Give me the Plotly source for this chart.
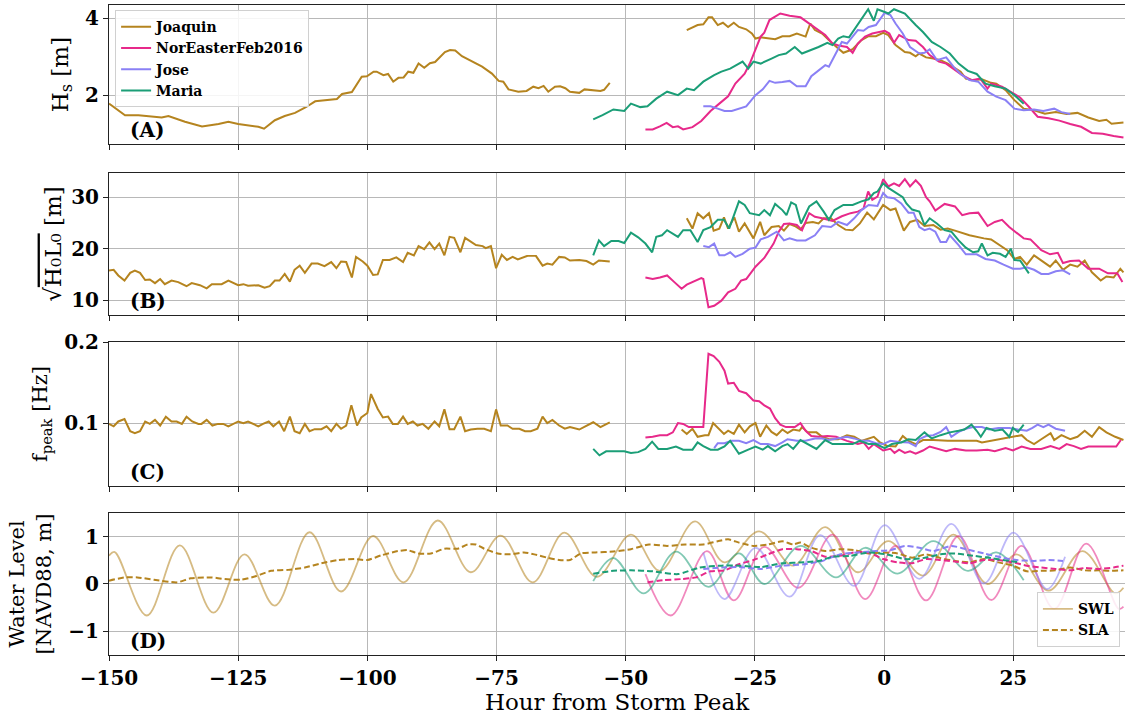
import plotly.graph_objects as go

# ---------------- DATA (hour from storm peak, value) ----------------
storms = ["Joaquin", "NorEasterFeb2016", "Jose", "Maria"]

# Panel A: Hs [m]
hs_joaquin = [(-150,1.78),(-146.9,1.48),(-144.3,1.48),(-141.7,1.44),(-139.8,1.42),(-138.5,1.46),(-135.3,1.31),(-132,1.19),(-128.8,1.25),(-126.9,1.31),(-125,1.25),(-121.1,1.18),(-120,1.13),(-117.9,1.35),(-116,1.46),(-114,1.54),(-112,1.68),(-110.1,1.84),(-107.8,1.87),(-105.9,1.90),(-104.9,2.03),(-103,2.08),(-101.1,2.48),(-100.1,2.49),(-98.8,2.61),(-98.2,2.61),(-96.9,2.52),(-96,2.55),(-95,2.35),(-94,2.45),(-93,2.46),(-92.1,2.61),(-91.1,2.58),(-90.1,2.82),(-89,2.71),(-87.9,2.83),(-86.9,2.86),(-85.9,2.99),(-85,3.12),(-84,3.17),(-83,3.16),(-81.7,3.01),(-79.8,2.87),(-77.8,2.74),(-75.9,2.56),(-74.6,2.37),(-73.7,2.35),(-72.7,2.15),(-70.8,2.09),(-69.2,2.11),(-67.9,2.22),(-66.9,2.18),(-65.9,2.24),(-65,2.09),(-63.7,2.22),(-62.7,2.23),(-61.7,2.18),(-60.8,2.09),(-59,2.06),(-58,2.15),(-54.9,2.11),(-54.2,2.14),(-53.1,2.32),
              (-45,None),
              (-38.2,3.69),(-36.1,3.82),(-35,3.84),(-34,4.02),(-33.3,4.02),(-32.2,3.82),(-31.2,3.88),(-30.2,3.77),(-29.1,3.88),(-28.1,3.77),(-26.7,3.71),(-25.6,3.60),(-24.9,3.47),(-23.9,3.50),(-21.1,3.45),(-19.7,3.53),(-18.3,3.53),(-16.9,3.60),(-15.2,3.52),(-14.3,3.86),(-13.4,3.69),(-12,3.60),(-10,3.34),(-7.9,3.10),(-6.1,3.19),(-4.4,3.43),(-3,3.53),(-1.6,3.53),(-0.2,3.62),(0.8,3.56),(2.2,3.30),(4,3.12),(5,3.10),(6.1,3.01),(6.8,3.08),(8.1,2.98),(9.5,2.95),(10.9,2.91),(12.3,2.82),(13.7,2.69),(14.8,2.61),(15.8,2.43),(17.2,2.39),(18.9,2.41),(20.7,2.32),(21.7,2.30),(23.5,2.13),(25.2,1.87),(27,1.65),(29,1.61),(31.1,1.52),(33.2,1.56),(35.3,1.51),(37.4,1.54),(39.5,1.42),(41.6,1.33),(43,1.36),(44,1.26),(46.3,1.29)]
hs_noreaster = [(-46.2,1.11),(-44.8,1.11),(-43.4,1.19),(-42.1,1.28),(-40.9,1.17),(-39.9,1.19),(-38.9,1.11),(-37.1,1.17),(-35.4,1.33),(-33.6,1.59),(-31.9,1.78),(-30.2,1.97),(-28.8,2.30),(-27,2.56),(-26,2.82),(-24.9,3.21),(-23.9,3.52),(-23.2,3.62),(-22.2,3.95),(-20.1,4.12),(-18.3,4.06),(-16.2,4.02),(-14.5,3.86),(-13.1,3.71),(-11.4,3.56),(-10,3.34),(-8.6,3.28),(-7.2,3.25),(-6.1,3.10),(-5.1,3.34),(-3.7,3.52),(-2.3,3.60),(-0.9,3.65),(0.1,3.67),(1,3.60),(1.9,3.36),(2.9,3.56),(4.7,3.43),(6.1,3.41),(7.5,3.25),(8.8,3.04),(10.6,2.87),(12,2.82),(13.4,2.69),(15.1,2.52),(16.9,2.39),(18.6,2.43),(20,2.17),(20.7,2.30),(22.8,2.22),(24.5,2.09),(26.3,1.94),(28,1.70),(29.7,1.44),(31.8,1.40),(33.9,1.34),(36,1.25),(38.1,1.18),(40.2,1.02),(42.3,1.00),(44.4,0.94),(46.3,0.90)]
hs_jose = [(-35,1.71),(-33.6,1.71),(-32.2,1.65),(-30.9,1.59),(-29.5,1.59),(-28.1,1.65),(-26.7,1.71),(-24.9,2.0),(-23.5,2.15),(-22.2,2.37),(-21.1,2.32),(-19.7,2.34),(-18.3,2.37),(-16.9,2.23),(-15.2,2.23),(-14.1,2.49),(-12.7,2.65),(-11.4,2.78),(-10.7,2.74),(-9.6,3.04),(-8.2,3.38),(-7.2,3.34),(-6.1,3.52),(-5.1,3.69),(-4,3.67),(-3,3.77),(-1.6,3.82),(-0.6,3.99),(0.1,4.14),(1.2,4.08),(2.2,3.86),(3.6,3.60),(5,3.25),(6.8,3.08),(7.8,3.10),(8.8,3.19),(10.2,2.91),(12,2.98),(13.4,2.74),(14.8,2.55),(16.5,2.39),(18.2,2.35),(20,2.09),(21.7,1.96),(23.5,1.87),(25.2,1.65),(27,1.61),(29,1.63),(30.8,1.59),(32.9,1.65),(34.3,1.56),(36,1.51)]
hs_maria = [(-56.3,1.37),(-54.5,1.48),(-52.4,1.63),(-50.3,1.59),(-49,1.78),(-47.2,1.69),(-45.8,1.71),(-44.1,1.91),(-42,2.09),(-39.9,2.0),(-38.2,2.17),(-36.8,2.13),(-35,2.35),(-32.9,2.52),(-31.5,2.61),(-29.8,2.69),(-27.4,2.87),(-26.3,2.69),(-25.3,2.87),(-23.9,2.82),(-21.8,2.95),(-20.4,3.04),(-19,3.08),(-17.3,3.25),(-15.9,3.08),(-14.1,3.17),(-12.7,3.25),(-11,3.36),(-10,3.30),(-8.9,3.47),(-7.9,3.53),(-6.8,3.50),(-5.8,3.69),(-4.4,3.95),(-3.1,4.23),(-2,3.93),(-1.3,4.23),(0.1,4.16),(0.8,4.12),(1.9,4.23),(4,4.12),(6.1,3.82),(7.5,3.64),(9.2,3.38),(10.9,3.25),(12.7,3.08),(14.4,2.82),(16.2,2.63),(17.9,2.55),(19.6,2.30),(21.4,2.23),(23.5,2.17),(25.2,2.0),(27,1.78)]

# Panel B: sqrt(H0 L0) [m]
hl_joaquin = [(-150,15.75),(-149.1,15.9),(-148.2,14.8),(-147,13.8),(-145.9,15.3),(-145,15.75),(-144,15.3),(-143,13.9),(-142.1,14.0),(-141.1,13.3),(-140.1,14.1),(-139.2,13.1),(-137.9,13.8),(-136.6,13.5),(-135,12.7),(-134,13.3),(-132.4,12.9),(-131.1,12.3),(-130.1,13.1),(-128.2,13.1),(-126.9,13.8),(-125,12.9),(-124,13.1),(-123.1,12.8),(-121.1,12.9),(-119.9,12.4),(-118.9,12.7),(-117.9,13.8),(-117,13.8),(-116,15.1),(-115,13.6),(-114.1,15.9),(-113.1,16.7),(-112.1,15.3),(-110.8,17.1),(-109.6,17.1),(-108.3,16.6),(-107,17.4),(-106,16.2),(-105.1,17.5),(-104.1,17.4),(-103,14.4),(-102.2,18.4),(-100.9,17.5),(-100,16.7),(-98.9,14.9),(-98,15.0),(-97,17.8),(-95.7,17.8),(-94.4,18.3),(-93.1,17.4),(-92.2,19.2),(-91,18.7),(-90.1,20.5),(-89,19.9),(-88,21.2),(-87,19.9),(-86.1,21.0),(-85.1,18.7),(-84.1,22.3),(-83.2,22.1),(-82,19.3),(-81.1,22.1),(-80,21.4),(-79,20.7),(-77.7,20.5),(-77.1,20.1),(-76.1,20.5),(-75.1,16.2),(-74,18.8),(-73,17.8),(-71.9,18.4),(-70.9,17.9),(-69,18.6),(-67.4,18.6),(-66.1,16.7),(-65.2,17.1),(-64.2,16.9),(-62.9,18.4),(-61.8,18.3),(-60.8,17.7),(-59,17.8),(-57.6,17.6),(-56.3,16.9),(-55.2,17.7),(-53.1,17.5),
              (-45,None),
              (-38.2,25.9),(-37.1,23.9),(-36.1,26.9),(-35,25.9),(-33.9,26.9),(-33,23.5),(-31.9,23.9),(-31,26.1),(-30.2,23.9),(-29,26.1),(-28.1,23.3),(-27,24.9),(-25.3,22.0),(-24,25.2),(-23.2,22.6),(-21.8,24.2),(-20.4,24.4),(-19.4,23.5),(-18.3,24.8),(-17.3,24.4),(-16.2,23.7),(-15.2,25.0),(-13.8,25.2),(-12.7,24.9),(-11.7,25.9),(-10.3,25.9),(-8.9,24.6),(-7.5,23.7),(-6.1,23.6),(-4.7,24.9),(-3.3,27.0),(-2,25.7),(-0.2,28.5),(1.2,27.5),(2.2,27.8),(3.8,23.5),(5,25.2),(6.4,25.6),(7.8,24.4),(9.5,24.6),(10.9,23.7),(12.3,23.9),(13.7,23.5),(16.5,22.6),(19.3,22.0),(20.7,21.8),(23.8,19.7),(25.2,18.0),(26.3,18.4),(27.6,16.9),(29,18.7),(30.4,17.7),(32.1,16.5),(33.2,17.7),(34.6,15.9),(36,16.9),(37.4,16.5),(38.8,17.7),(40.2,15.4),(41.9,13.8),(43,14.6),(44.4,14.4),(45.7,16.1),(46.3,15.4)]
hl_noreaster = [(-46.2,14.4),(-44.8,14.1),(-43.4,14.4),(-42,14.8),(-40.6,13.5),(-39.2,12.2),(-38.2,13.0),(-36.8,13.7),(-35.4,14.3),(-35,14.1),(-34,8.6),(-32.9,8.9),(-31.5,9.9),(-30.2,11.5),(-28.8,12.2),(-27.7,13.8),(-26.7,14.1),(-24.9,16.5),(-23.2,18.2),(-21.4,21.0),(-20.4,23.3),(-19.4,24.8),(-18.3,24.9),(-16.9,24.6),(-15.9,23.6),(-14.5,26.9),(-13.4,26.2),(-12,25.9),(-10,25.4),(-8.2,26.3),(-6.5,26.9),(-5.1,27.2),(-4,27.8),(-3.1,31.1),(-2.3,29.5),(-1.3,30.1),(-0.2,33.5),(0.8,32.1),(1.9,32.7),(2.9,32.2),(4,33.5),(5,32.1),(6.1,33.3),(7.1,32.2),(8.1,30.0),(8.8,29.2),(9.9,27.4),(11.7,28.7),(13.7,28.2),(15.1,26.5),(16.5,26.9),(18.2,27.0),(20,24.4),(21.4,25.2),(22.8,25.6),(24.2,24.2),(25.6,23.1),(27,22.0),(28.3,21.8),(30.4,19.7),(32.1,18.9),(33.6,19.2),(34.6,17.2),(36,17.6),(37.7,17.7),(39.5,16.1),(41.6,16.1),(43.3,15.2),(45.1,15.2),(46.1,13.5)]
hl_jose = [(-35,20.5),(-33.9,20.3),(-32.9,21.0),(-31.9,18.7),(-30.9,18.7),(-29.8,19.3),(-28.8,18.4),(-27.4,19.0),(-26,20.0),(-24.9,20.2),(-23.9,21.8),(-22.5,22.3),(-20.8,23.3),(-19.4,21.6),(-18.3,22.0),(-16.9,21.6),(-15.2,21.6),(-13.4,22.6),(-12,24.4),(-10.3,24.2),(-8.9,25.2),(-7.2,24.6),(-5.8,25.9),(-4.4,27.5),(-3,28.5),(-1.3,28.3),(-0.2,30.8),(0.6,30.0),(1.9,29.8),(3.3,28.8),(4.7,27.0),(5.7,27.0),(6.8,24.2),(7.8,23.6),(8.8,23.9),(9.9,23.3),(10.9,21.3),(12,21.3),(12.7,22.6),(14.4,20.7),(15.8,18.9),(17.9,18.9),(19.6,18.0),(21.4,17.7),(23.1,16.9),(24.9,16.1),(26.3,16.1),(27.6,16.4),(29,15.9),(30.4,15.1),(31.8,15.1),(33.2,15.6),(34.6,15.8),(36,15.0)]
hl_maria = [(-56.3,18.7),(-55.2,21.6),(-54.2,20.5),(-52.8,21.5),(-51.4,21.5),(-50.3,21.1),(-49,23.1),(-47.6,22.2),(-46.2,21.0),(-44.9,19.3),(-44.1,22.3),(-43,22.6),(-42,23.6),(-39.9,22.3),(-38.9,23.6),(-37.5,23.6),(-36.1,21.3),(-35,23.6),(-33.6,24.2),(-32.2,25.6),(-31,25.6),(-30,23.9),(-28.1,29.2),(-27,28.5),(-26,26.9),(-24.2,26.5),(-23.2,27.5),(-22.1,26.5),(-21.1,28.7),(-19.7,27.5),(-18.9,26.5),(-18,29.0),(-17.1,28.5),(-16.1,24.9),(-14.5,28.2),(-13.1,29.2),(-11.7,27.2),(-10.7,25.6),(-9.6,27.5),(-7.9,28.5),(-6.1,28.5),(-4.4,29.2),(-3,29.6),(-2,30.8),(-1.3,31.1),(-0.2,32.7),(0.8,31.8),(2.2,30.9),(3.6,30.0),(4.3,28.8),(5.4,27.6),(6.8,27.2),(7.8,24.6),(8.8,25.9),(10.2,24.9),(11.7,23.6),(13,23.3),(14.4,21.6),(15.8,20.2),(17.2,19.3),(18.2,19.5),(18.9,21.0),(20,18.7),(21,19.2),(22.4,19.0),(23.5,18.4),(24.5,20.0),(25.2,17.8),(26.3,17.7),(28,15.2)]

# Panel C: f_peak [Hz]
fp_joaquin = [(-150,0.099),(-149.1,0.096),(-148.2,0.102),(-147,0.105),(-145.9,0.090),(-145,0.0875),(-144,0.090),(-143,0.102),(-142.1,0.099),(-141.1,0.104),(-140.1,0.097),(-139,0.108),(-137.9,0.102),(-136.9,0.102),(-135.9,0.099),(-135,0.108),(-133.9,0.102),(-132.7,0.099),(-132.1,0.099),(-131.1,0.104),(-130,0.097),(-128.9,0.099),(-127.9,0.099),(-126.9,0.096),(-125,0.102),(-124,0.100),(-123.1,0.102),(-121.1,0.096),(-120.2,0.099),(-119.1,0.102),(-118.2,0.096),(-117.1,0.102),(-116.1,0.090),(-115,0.108),(-114.1,0.090),(-113.1,0.0875),(-112.1,0.099),(-111.2,0.090),(-110.2,0.0925),(-108.9,0.0925),(-107.9,0.096),(-107,0.090),(-106,0.099),(-105.1,0.093),(-104.1,0.097),(-103.1,0.122),(-102,0.097),(-101.2,0.107),(-100,0.1125),(-99.3,0.136),(-98,0.1175),(-97,0.107),(-96,0.108),(-95.1,0.099),(-94.1,0.099),(-93.1,0.108),(-92.2,0.099),(-91.2,0.102),(-90.3,0.097),(-89.3,0.099),(-88.2,0.093),(-87,0.102),(-86.1,0.096),(-85.1,0.117),(-84.1,0.0925),(-83.2,0.0925),(-82,0.108),(-81.1,0.090),(-80,0.092),(-78.7,0.093),(-77.4,0.093),(-76.1,0.090),(-75.1,0.117),(-74.2,0.097),(-72.9,0.097),(-71.9,0.093),(-70.6,0.093),(-69.5,0.090),(-68.4,0.090),(-67.1,0.093),(-66.1,0.108),(-65.2,0.100),(-64.2,0.104),(-62.9,0.097),(-61.8,0.093),(-60.8,0.095),(-59,0.092),(-57.6,0.097),(-56.3,0.101),(-54.9,0.095),(-53.1,0.101),
              (-45,None),
              (-39.2,0.092),(-38.2,0.0865),(-37.1,0.093),(-36.1,0.083),(-34.7,0.085),(-34,0.085),(-33.1,0.100),(-31.9,0.093),(-31,0.0865),(-30.2,0.0905),(-29.1,0.0865),(-28.1,0.098),(-27,0.0885),(-26,0.096),(-24.9,0.100),(-24,0.083),(-22.8,0.097),(-21.8,0.089),(-20.8,0.085),(-19.7,0.092),(-18.7,0.0875),(-17.6,0.092),(-16.4,0.0905),(-15.9,0.095),(-14.8,0.0885),(-13.1,0.0885),(-12,0.083),(-10.7,0.080),(-8.9,0.080),(-7.2,0.085),(-5.8,0.083),(-4.4,0.078),(-3,0.081),(-2,0.083),(-0.9,0.0765),(0.5,0.072),(2.2,0.071),(3.6,0.084),(4.7,0.078),(6.1,0.074),(7.5,0.079),(9.5,0.079),(12.3,0.078),(15.1,0.078),(17.9,0.078),(18.9,0.076),(20.7,0.078),(22.4,0.080),(24.9,0.083),(26.6,0.085),(27.6,0.079),(29,0.074),(30.4,0.080),(32.2,0.0875),(32.9,0.079),(34.3,0.085),(36,0.080),(37.4,0.083),(38.8,0.0905),(40.2,0.083),(41.6,0.095),(43,0.0885),(44.7,0.083),(46.3,0.079)]
fp_noreaster = [(-46.2,0.082),(-44.8,0.083),(-43.4,0.085),(-42,0.085),(-40.9,0.0885),(-39.9,0.100),(-38.9,0.099),(-37.8,0.095),(-35,0.095),(-34,0.186),(-33,0.183),(-31.9,0.176),(-30.9,0.165),(-30.2,0.149),(-29.1,0.150),(-28.1,0.140),(-26.7,0.137),(-25.3,0.128),(-24.2,0.127),(-23.2,0.122),(-22.1,0.118),(-21.1,0.106),(-20.1,0.098),(-19,0.095),(-17.3,0.095),(-16.2,0.100),(-15.2,0.0905),(-14.1,0.084),(-12.7,0.083),(-11,0.084),(-9.3,0.083),(-7.2,0.078),(-5.1,0.074),(-4,0.076),(-3,0.068),(-2,0.074),(-0.2,0.066),(1.2,0.068),(2,0.063),(2.9,0.067),(4,0.063),(5,0.065),(6.1,0.062),(7.5,0.066),(8.8,0.071),(10.2,0.068),(12,0.065),(13.7,0.068),(15.8,0.066),(17.9,0.066),(20,0.067),(21.4,0.065),(23.5,0.069),(24.9,0.066),(26.6,0.071),(28.3,0.068),(30.4,0.068),(32.2,0.0715),(33.9,0.068),(35.3,0.074),(36.7,0.0715),(38.1,0.068),(39.5,0.071),(41.6,0.071),(44.9,0.071),(45.8,0.079)]
fp_jose = [(-32.9,0.069),(-32.2,0.075),(-30.9,0.075),(-29.5,0.078),(-28.1,0.078),(-26.7,0.075),(-25.3,0.079),(-23.9,0.074),(-22.5,0.074),(-21.1,0.0715),(-19.7,0.076),(-18.7,0.080),(-16.9,0.078),(-15.2,0.078),(-13.4,0.081),(-12,0.081),(-10.7,0.079),(-8.6,0.081),(-7.2,0.083),(-5.8,0.081),(-4.4,0.078),(-3,0.078),(-1.6,0.075),(-0.2,0.074),(1.2,0.078),(2.9,0.0765),(4.7,0.076),(6.1,0.0715),(6.8,0.080),(8.1,0.084),(9.5,0.085),(10.9,0.089),(12,0.095),(13,0.083),(14.4,0.089),(15.8,0.093),(17.2,0.095),(18.9,0.095),(20.3,0.092),(22.1,0.094),(24.2,0.094),(25.9,0.092),(27.6,0.0905),(28.7,0.094),(29.7,0.098),(30.8,0.095),(31.8,0.098),(33.2,0.093),(35,0.0905)]
fp_maria = [(-56.3,0.068),(-55.1,0.060),(-53.8,0.065),(-50.3,0.065),(-49,0.063),(-47.6,0.064),(-46.2,0.068),(-44.9,0.077),(-43.7,0.068),(-42,0.068),(-40.3,0.071),(-38.9,0.067),(-37.1,0.067),(-36.1,0.076),(-35,0.0715),(-33.6,0.067),(-32.2,0.067),(-30.9,0.071),(-29.8,0.078),(-28.8,0.069),(-28.1,0.062),(-26.3,0.067),(-24.9,0.071),(-23.5,0.067),(-22.5,0.0715),(-21.1,0.065),(-19.7,0.0715),(-18.7,0.074),(-17.6,0.068),(-16.2,0.079),(-14.8,0.074),(-13.1,0.068),(-11.4,0.079),(-10,0.074),(-7.9,0.074),(-6.1,0.074),(-4.7,0.078),(-3,0.074),(-1.6,0.074),(0.1,0.069),(1.5,0.074),(3.3,0.076),(4.7,0.080),(6.1,0.079),(7.8,0.0885),(9.2,0.081),(10.9,0.085),(12.7,0.0885),(14.4,0.0905),(15.5,0.092),(16.9,0.098),(17.9,0.0905),(18.7,0.083),(19.8,0.094),(21.4,0.0905),(22.9,0.092),(24.2,0.083),(24.9,0.094),(25.9,0.089),(27,0.098)]

# Panel D: water level [NAVD88, m]; SWL (solid) and SLA (dashed)
swl_joaquin = [(-150,0.60),(-148.9,0.68),(-142.7,-0.67),(-136.3,0.82),(-129.8,-0.61),(-123.8,0.63),(-117.9,-0.46),(-111.2,1.10),(-105.1,-0.16),(-98.9,1.02),(-93,0.035),(-86.4,1.35),(-80,0.25),(-74.2,1.03),(-68,0.035),(-61.9,1.09),(-55.6,0.15),(-49,1.05),(-43.4,0.28),(-36.6,1.33),(-30.9,0.46),(-24.2,1.12),(-17.6,0.39),(-11.4,1.21),(-5.1,0.25),(0.8,0.91),(7.5,0.18),(13.4,1.05),(20,0.0),(25.6,0.63),(31.8,-0.14),(38.4,0.70),(44.7,-0.20),(46.3,-0.08)]
sla_joaquin = [(-150,0.07),(-147,0.14),(-144.5,0.14),(-141.3,0.09),(-136.8,0.035),(-134.2,0.12),(-130.2,0.14),(-127.6,0.105),(-124.4,0.09),(-121.8,0.16),(-118.6,0.28),(-115.3,0.30),(-112.1,0.35),(-108.9,0.44),(-105.7,0.51),(-102.5,0.53),(-100,0.51),(-97.3,0.61),(-94.1,0.70),(-92.2,0.72),(-90.2,0.65),(-87.7,0.65),(-85.1,0.75),(-82.5,0.75),(-80.6,0.84),(-79,0.84),(-77.4,0.75),(-74.8,0.65),(-72.3,0.63),(-69.7,0.67),(-67.7,0.63),(-65.2,0.56),(-62.9,0.51),(-60.8,0.51),(-58.7,0.65),(-55.9,0.67),(-52.4,0.69),(-49,0.74),(-45.5,0.84),(-42,0.81),(-38.5,0.84),(-35,0.84),(-32.2,0.91),(-30.2,0.95),(-28.1,0.88),(-25.3,0.81),(-22.5,0.84),(-19.7,0.91),(-17.6,0.84),(-16.2,0.88),(-14.1,0.77),(-11.4,0.70),(-8.6,0.74),(-5.8,0.72),(-3,0.65),(-0.2,0.67),(2.6,0.65),(5.4,0.56),(8.1,0.63),(10.9,0.55),(13.7,0.49),(16.5,0.46),(19.3,0.53),(22.1,0.46),(24.9,0.39),(27.6,0.27),(30.4,0.28),(33.2,0.29),(36,0.35),(38.8,0.29),(41.6,0.29),(43.7,0.28),(46.3,0.29)]
swl_noreaster = [(-46.2,0.21),(-41.3,-0.67),(-34.3,0.70),(-29.1,-0.35),(-23.2,0.79),(-16.6,-0.08),(-10,1.05),(-3.7,-0.32),(2.2,0.81),(8.1,-0.35),(14.4,1.02),(20.7,-0.34),(26.6,0.81),(32.9,-0.53),(39.1,0.86),(45.4,-0.53),(46.3,-0.48)]
sla_noreaster = [(-45.8,0.035),(-42.7,0.08),(-39.2,0.105),(-36.4,0.14),(-33.6,0.27),(-30.9,0.29),(-28.1,0.42),(-25.3,0.51),(-22.5,0.63),(-19.7,0.74),(-16.9,0.74),(-14.1,0.70),(-11.4,0.58),(-8.6,0.60),(-5.8,0.67),(-3,0.67),(-0.2,0.53),(2.6,0.46),(5.4,0.44),(8.1,0.53),(10.9,0.51),(13.7,0.48),(16.5,0.44),(19.3,0.51),(22.1,0.51),(24.9,0.46),(27.6,0.39),(30.4,0.35),(33.2,0.32),(36,0.29),(38.8,0.34),(41.6,0.32),(44.4,0.35),(46.3,0.39)]
swl_jose = [(-35,0.67),(-30.9,-0.32),(-24.9,0.77),(-18.3,-0.27),(-12.4,1.04),(-5.8,-0.04),(0.1,1.25),(6.8,0.11),(13,1.28),(19.3,0.01),(25,1.09),(31.5,-0.11),(35,0.58)]
sla_jose = [(-35,0.32),(-31.5,0.35),(-28.1,0.36),(-23.9,0.32),(-19.7,0.39),(-15.5,0.42),(-12,0.49),(-8.6,0.63),(-5.1,0.67),(-1.6,0.70),(1.2,0.72),(4,0.81),(6.8,0.77),(9.5,0.70),(13,0.81),(15.8,0.74),(19.3,0.65),(22.8,0.56),(25.6,0.51),(29,0.49),(31.8,0.51),(34.6,0.49)]
swl_maria = [(-56.3,0.06),(-52.4,0.55),(-46.5,-0.20),(-40.3,0.69),(-34,-0.06),(-28.1,0.65),(-23.2,0.0),(-16.2,0.81),(-9.3,0.14),(-3.7,0.77),(2.6,0.22),(9.5,0.91),(16.2,0.28),(21.7,0.67),(27,0.08)]
sla_maria = [(-56.3,0.22),(-52.4,0.28),(-49,0.29),(-44.8,0.27),(-39.9,0.21),(-35.7,0.35),(-31.5,0.39),(-28.1,0.39),(-23.9,0.36),(-19.7,0.44),(-15.5,0.46),(-12.7,0.49),(-10,0.58),(-6.5,0.60),(-3,0.67),(0.5,0.63),(4,0.53),(7.5,0.55),(10.9,0.63),(13.7,0.65),(17.2,0.60),(20.7,0.55),(24.2,0.49),(26.3,0.46)]

x_ticks = [-150, -125, -100, -75, -50, -25, 0, 25]

# ---------------- STYLE ----------------
FONT = "DejaVu Serif"
colors = {"Joaquin": "#b5841f", "NorEasterFeb2016": "#e7298a", "Jose": "#8a80f5", "Maria": "#1b9e77"}


def unzip(pairs):
    return [p[0] for p in pairs], [p[1] for p in pairs]


fig = go.Figure()

panel_series = [
    ("y", [hs_joaquin, hs_noreaster, hs_jose, hs_maria]),
    ("y2", [hl_joaquin, hl_noreaster, hl_jose, hl_maria]),
    ("y3", [fp_joaquin, fp_noreaster, fp_jose, fp_maria]),
]
xnames = {"y": "x", "y2": "x2", "y3": "x3", "y4": "x4"}
for yax, series in panel_series:
    for name, pairs in zip(storms, series):
        xs, ys = unzip(pairs)
        fig.add_trace(go.Scatter(
            x=xs, y=ys, mode="lines", name=name, xaxis=xnames[yax], yaxis=yax,
            line=dict(color=colors[name], width=2), connectgaps=False,
            showlegend=(yax == "y"), legend="legend"))

swl_sets = [swl_joaquin, swl_noreaster, swl_jose, swl_maria]
sla_sets = [sla_joaquin, sla_noreaster, sla_jose, sla_maria]
for i, name in enumerate(storms):
    xs, ys = unzip(swl_sets[i])
    fig.add_trace(go.Scatter(
        x=xs, y=ys, mode="lines", name="SWL", xaxis="x4", yaxis="y4",
        line=dict(color=colors[name], width=1.8, shape="spline", smoothing=1.0),
        opacity=0.55, showlegend=(i == 0), legend="legend2"))
for i, name in enumerate(storms):
    xs, ys = unzip(sla_sets[i])
    fig.add_trace(go.Scatter(
        x=xs, y=ys, mode="lines", name="SLA", xaxis="x4", yaxis="y4",
        line=dict(color=colors[name], width=2, dash="6px,3px", shape="spline", smoothing=0.6),
        showlegend=(i == 0), legend="legend2"))

axis_common = dict(showline=True, mirror=True, linecolor="#222", linewidth=1,
                   ticks="outside", ticklen=5, tickcolor="#222", tickwidth=1,
                   showgrid=True, gridcolor="#b8b8b8", gridwidth=1, zeroline=False,
                   automargin=False,
                   tickfont=dict(family=FONT, size=20, color="black", weight="bold"))

domains = {"y": [0.786, 1.0], "y2": [0.523, 0.7415], "y3": [0.26, 0.4815], "y4": [0.0, 0.2185]}
xrange_ = [-150, 46.6]
layout = dict(
    width=1125, height=715, plot_bgcolor="white", paper_bgcolor="white",
    margin=dict(l=109, r=0, t=5, b=60, autoexpand=False),
    font=dict(family=FONT, color="black"),
)
for k, xa in [("xaxis", "y"), ("xaxis2", "y2"), ("xaxis3", "y3"), ("xaxis4", "y4")]:
    layout[k] = dict(axis_common, range=xrange_, tickvals=x_ticks, anchor=xa,
                     showticklabels=(k == "xaxis4"))
    if k != "xaxis":
        layout[k]["matches"] = "x"
layout["xaxis4"]["title"] = dict(text="Hour from Storm Peak", font=dict(family=FONT, size=23), standoff=4)

layout["yaxis"] = dict(axis_common, domain=domains["y"], anchor="x", range=[0.73, 4.34],
                       tickvals=[2, 4],
                       title=dict(text="H<sub>s</sub> [m]", font=dict(family=FONT, size=23), standoff=10))
layout["yaxis2"] = dict(axis_common, domain=domains["y2"], anchor="x2", range=[7.1, 34.7],
                        tickvals=[10, 20, 30],
                        title=dict(text="√<span style=\"text-decoration:overline\">H₀L₀</span> [m]",
                                   font=dict(family=FONT, size=23), standoff=3))
layout["yaxis3"] = dict(axis_common, domain=domains["y3"], anchor="x3", range=[0.022, 0.2005],
                        tickvals=[0.1, 0.2], ticktext=["0.1", "0.2"],
                        title=dict(text="f<sub>peak</sub> [Hz]", font=dict(family=FONT, size=21), standoff=10))
layout["yaxis4"] = dict(axis_common, domain=domains["y4"], anchor="x4", range=[-1.51, 1.51],
                        tickvals=[-1, 0, 1],
                        title=dict(text="Water Level<br>[NAVD88, m]", font=dict(family=FONT, size=21), standoff=10))

layout["legend"] = dict(x=0.006, y=0.992, xanchor="left", yanchor="top", itemwidth=30,
                        bgcolor="rgba(255,255,255,0.85)", bordercolor="#d0d0d0", borderwidth=1,
                        font=dict(family=FONT, size=14, weight="bold"), tracegroupgap=0)
layout["legend2"] = dict(x=0.995, y=0.012, xanchor="right", yanchor="bottom", itemwidth=30,
                         bgcolor="rgba(255,255,255,0.85)", bordercolor="#d0d0d0", borderwidth=1,
                         font=dict(family=FONT, size=14, weight="bold"))

labels = [("(A)", "y"), ("(B)", "y2"), ("(C)", "y3"), ("(D)", "y4")]
anns = []
for txt, yax in labels:
    anns.append(dict(text=txt, xref="x domain" if yax == "y" else "x" + yax[1:] + " domain",
                     yref=yax + " domain", x=0.019, y=0.0, xanchor="left", yanchor="bottom",
                     showarrow=False, font=dict(family=FONT, size=20, weight="bold", color="black")))
layout["annotations"] = anns

fig.update_layout(**layout)
# remove the default page margin so the 1125x715 figure fills the window exactly
fig.write_html("out.html", config={"displayModeBar": False},
               post_script="document.body.style.margin='0';document.body.style.overflow='hidden';")
